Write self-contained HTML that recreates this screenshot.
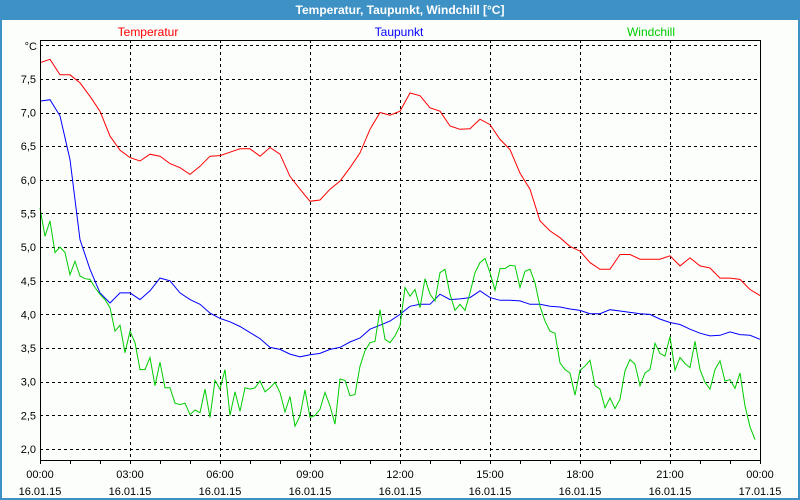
<!DOCTYPE html>
<html><head><meta charset="utf-8"><style>
body{margin:0;background:#fff}
#wrap{position:relative;width:800px;height:500px;overflow:hidden}
svg text{font-family:"Liberation Sans",sans-serif}
</style></head><body>
<div id="wrap">
<svg id="chart" width="800" height="500" xmlns="http://www.w3.org/2000/svg">
<rect x="0" y="0" width="800" height="500" fill="#3d91c4"/>
<rect x="2" y="20" width="796" height="478" fill="#fcfefc"/>
<text x="400" y="14" text-anchor="middle" font-size="12" font-weight="bold" fill="#ffffff">Temperatur, Taupunkt, Windchill [°C]</text>
<text x="148" y="36" text-anchor="middle" font-size="12" fill="#ff0000">Temperatur</text>
<text x="399" y="36" text-anchor="middle" font-size="12" fill="#0000ff">Taupunkt</text>
<text x="651" y="36" text-anchor="middle" font-size="12" fill="#00cc00">Windchill</text>
<text x="37" y="50" text-anchor="end" font-size="11" fill="#000">°C</text>
<g id="grid"></g><g id="series"></g><g id="axes"></g>
</svg>
</div>
<script>
const yTicks=[2.0,2.5,3.0,3.5,4.0,4.5,5.0,5.5,6.0,6.5,7.0,7.5];
const xTickHours=[0,3,6,9,12,15,18,21,24];
const xTickTimes=["00:00","03:00","06:00","09:00","12:00","15:00","18:00","21:00","00:00"];
const xTickDates=["16.01.15","16.01.15","16.01.15","16.01.15","16.01.15","16.01.15","16.01.15","16.01.15","17.01.15"];
const tempStepMin=20;
const temperatur=[7.74,7.79,7.56,7.56,7.44,7.24,7.02,6.65,6.44,6.33,6.28,6.38,6.35,6.24,6.18,6.08,6.20,6.35,6.36,6.41,6.46,6.46,6.35,6.48,6.38,6.05,5.86,5.68,5.70,5.86,5.98,6.18,6.40,6.75,7.00,6.96,7.02,
7.29,7.25,7.07,7.02,6.80,6.75,6.76,6.90,6.82,6.60,6.45,6.10,5.86,5.39,5.24,5.14,5.01,4.94,4.77,4.67,4.67,4.89,4.89,4.82,4.82,4.82,4.87,4.72,4.84,4.72,4.69,4.54,4.54,4.52,4.37,4.28];
const taupunkt=[7.17,7.19,6.95,6.30,5.11,4.67,4.32,4.17,4.32,4.32,4.22,4.35,4.54,4.50,4.32,4.22,4.15,4.02,3.94,3.89,3.82,3.73,3.64,3.51,3.48,3.41,3.37,3.40,3.42,3.48,3.51,3.59,3.65,3.78,3.84,3.90,4.00,
4.12,4.15,4.15,4.30,4.22,4.23,4.25,4.35,4.25,4.21,4.21,4.20,4.15,4.15,4.12,4.11,4.08,4.06,4.01,4.01,4.07,4.05,4.03,4.01,4.00,3.93,3.88,3.85,3.78,3.72,3.68,3.69,3.74,3.70,3.69,3.63];
const windStepMin=10;
const windchill=[5.58,5.16,5.39,4.92,5.00,4.92,4.59,4.79,4.57,4.53,4.52,4.40,4.30,4.22,4.10,3.75,3.84,3.43,3.75,3.58,3.18,3.18,3.36,2.94,3.29,2.91,2.91,2.68,2.66,2.68,2.51,2.58,2.54,2.89,2.47,3.02,2.89,3.18,2.50,2.85,2.56,2.91,2.89,2.91,3.01,2.85,2.91,2.99,2.84,2.55,2.78,2.34,2.49,2.88,2.47,2.50,2.59,2.84,2.64,2.37,3.04,3.02,2.79,2.81,3.23,3.46,3.58,3.60,4.07,3.63,3.58,3.68,3.83,
4.40,4.27,4.37,4.10,4.53,4.30,4.20,4.62,4.67,4.30,4.06,4.15,4.06,4.32,4.62,4.77,4.83,4.62,4.36,4.68,4.68,4.73,4.72,4.40,4.64,4.67,4.47,4.12,3.90,3.75,3.72,3.28,3.18,3.13,2.80,3.17,3.23,3.32,2.94,2.89,2.61,2.76,2.60,2.74,3.16,3.33,3.26,2.94,3.13,3.18,3.57,3.42,3.38,3.67,3.17,3.36,3.27,3.21,3.60,3.18,2.99,2.89,3.18,3.31,3.01,3.03,2.90,3.13,2.64,2.33,2.14];

const NS="http://www.w3.org/2000/svg";
const L=40,R=760,T=40,B=460;
function xScale(h){return L+(h/24)*(R-L);}
function yScale(v){return 449-(v-2)*67.3;}
function mk(tag,attrs,parent){const e=document.createElementNS(NS,tag);for(const k in attrs)e.setAttribute(k,attrs[k]);parent.appendChild(e);return e;}
const grid=document.getElementById('grid'),axes=document.getElementById('axes'),series=document.getElementById('series');
// horizontal grid lines + y labels
[...yTicks,8.0].forEach(v=>{
  const y=Math.round(yScale(v))+0.5;
  const ln=mk('line',{x1:L,x2:R,y1:y,y2:y,stroke:'#000','stroke-width':1,'stroke-dasharray':'3,3'},grid);
  
  
});
yTicks.forEach(v=>{
  const t=mk('text',{x:36,y:yScale(v)+4,'text-anchor':'end','font-size':11,fill:'#000'},axes);
  t.textContent=v.toFixed(1).replace('.',',');
  
  
});
// vertical grid + x labels
xTickHours.forEach((h,i)=>{
  const x=Math.round(xScale(h))+0.5;
  if(h>0&&h<24){
    const ln=mk('line',{x1:x,x2:x,y1:T,y2:B,stroke:'#000','stroke-width':1,'stroke-dasharray':'3,3'},grid);
    
    
  }
  const t1=mk('text',{x:xScale(h),y:478,'text-anchor':'middle','font-size':11,fill:'#000'},axes);
  t1.textContent=xTickTimes[i];
  
  
  const t2=mk('text',{x:xScale(h),y:495,'text-anchor':'middle','font-size':11,fill:'#000'},axes);
  t2.textContent=xTickDates[i];
  
  
});
for(let h=0;h<=24;h++){
  const x=Math.round(xScale(h))+0.5;
  const tk=mk('line',{x1:x,x2:x,y1:B,y2:B+4,stroke:'#000','stroke-width':1},axes);
  
  
}
const frame=mk('rect',{x:L+0.5,y:T+0.5,width:R-L,height:B-T,fill:'none',stroke:'#000','stroke-width':1},axes);


function drawSeries(vals,stepMin,color,name){
  const pts=vals.map((v,i)=>xScale(i*stepMin/60).toFixed(1)+','+yScale(v).toFixed(1)).join(' ');
  const p=mk('polyline',{points:pts,fill:'none',stroke:color,'stroke-width':1},series);
  
  
}
drawSeries(temperatur,tempStepMin,'#ff0000','temperatur-line');
drawSeries(taupunkt,tempStepMin,'#0000ff','taupunkt-line');
drawSeries(windchill,windStepMin,'#00cc00','windchill-line');
</script>
</body></html>
